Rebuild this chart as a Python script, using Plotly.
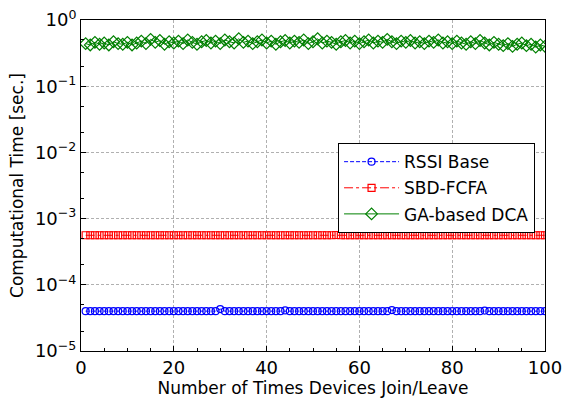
import plotly.graph_objects as go

x_vals = list(range(1, 101))

rssi = [4.0e-5] * 100
rssi[29] = 4.3e-5
rssi[43] = 4.1e-5
rssi[66] = 4.15e-5
rssi[86] = 4.08e-5

sbd = [5.6e-4] * 100
sbd[54] = 5.65e-4

ga = [0.44, 0.42, 0.46, 0.43, 0.45, 0.42, 0.47, 0.44, 0.43, 0.46,
      0.42, 0.45, 0.48, 0.44, 0.51, 0.46, 0.49, 0.43, 0.47, 0.45,
      0.48, 0.44, 0.50, 0.46, 0.43, 0.47, 0.49, 0.45, 0.48, 0.44,
      0.50, 0.47, 0.45, 0.52, 0.46, 0.48, 0.44, 0.47, 0.50, 0.45,
      0.48, 0.43, 0.47, 0.49, 0.45, 0.48, 0.46, 0.50, 0.44, 0.47,
      0.52, 0.45, 0.48, 0.46, 0.43, 0.47, 0.49, 0.45, 0.48, 0.44,
      0.47, 0.50, 0.45, 0.48, 0.46, 0.51, 0.47, 0.44, 0.48, 0.46,
      0.49, 0.45, 0.47, 0.44, 0.48, 0.46, 0.50, 0.45, 0.47, 0.44,
      0.48, 0.45, 0.43, 0.47, 0.44, 0.49, 0.45, 0.42, 0.46, 0.43,
      0.41, 0.44, 0.40, 0.43, 0.45, 0.41, 0.43, 0.39, 0.42, 0.40]

series_names = ["RSSI Base", "SBD-FCFA", "GA-based DCA"]

y_tickvals = [1e-5, 1e-4, 1e-3, 1e-2, 1e-1, 1]
y_ticktext = ["10<sup>−5</sup>", "10<sup>−4</sup>", "10<sup>−3</sup>",
              "10<sup>−2</sup>", "10<sup>−1</sup>", "10<sup>0</sup>"]
x_tickvals = [0, 20, 40, 60, 80, 100]

FONT = "DejaVu Sans"

fig = go.Figure()
fig.add_trace(go.Scatter(
    x=x_vals, y=rssi, name=series_names[0], legendgroup="a",
    mode="lines+markers",
    line=dict(color="#0000ff", width=1, dash="4px,2px"),
    marker=dict(symbol="circle-open", size=7, color="#0000ff", line=dict(width=1.2)),
))
fig.add_trace(go.Scatter(
    x=x_vals, y=sbd, name=series_names[1], legendgroup="b",
    mode="lines+markers",
    line=dict(color="#ff0000", width=1, dash="dashdot"),
    marker=dict(symbol="square-open", size=7, color="#ff0000", line=dict(width=1.2)),
))
fig.add_trace(go.Scatter(
    x=x_vals, y=ga, name=series_names[2], legendgroup="c",
    mode="lines+markers",
    line=dict(color="#008000", width=1),
    marker=dict(symbol="diamond-open", size=9, color="#008000", line=dict(width=1.2)),
))

grid_dash = "3px,2px"

fig.update_layout(
    width=563, height=398,
    margin=dict(l=81, r=18, t=20, b=47),
    paper_bgcolor="white", plot_bgcolor="white",
    font=dict(family=FONT, size=16, color="black"),
    showlegend=True,
    legend=dict(
        x=0.554, y=0.628, xanchor="left", yanchor="top",
        bgcolor="white", bordercolor="black", borderwidth=1,
        font=dict(size=17), tracegroupgap=1, itemwidth=55,
    ),
    xaxis=dict(
        range=[0, 100], tickvals=x_tickvals, automargin=False,
        ticks="inside", ticklen=5, tickcolor="black",
        showline=True, linecolor="black", linewidth=1, mirror=True,
        showgrid=True, gridcolor="#b0b0b0", griddash=grid_dash, gridwidth=1,
        zeroline=False,
        minor=dict(dtick=5, ticks="inside", ticklen=3, tickcolor="black", showgrid=False),
        title=dict(text="Number of Times Devices Join/Leave", font=dict(size=17), standoff=2),
        tickfont=dict(size=18),
    ),
    yaxis=dict(
        type="log", range=[-5, 0], automargin=False,
        tickvals=y_tickvals, ticktext=y_ticktext,
        ticks="inside", ticklen=5, tickcolor="black",
        showline=True, linecolor="black", linewidth=1, mirror=True,
        showgrid=True, gridcolor="#b0b0b0", griddash=grid_dash, gridwidth=1,
        zeroline=False,
        minor=dict(ticks="inside", ticklen=3, tickcolor="black", showgrid=False),
        title=dict(text="Computational Time [sec.]", font=dict(size=17), standoff=6),
        tickfont=dict(size=18),
    ),
)

fig.write_html("out.html")
